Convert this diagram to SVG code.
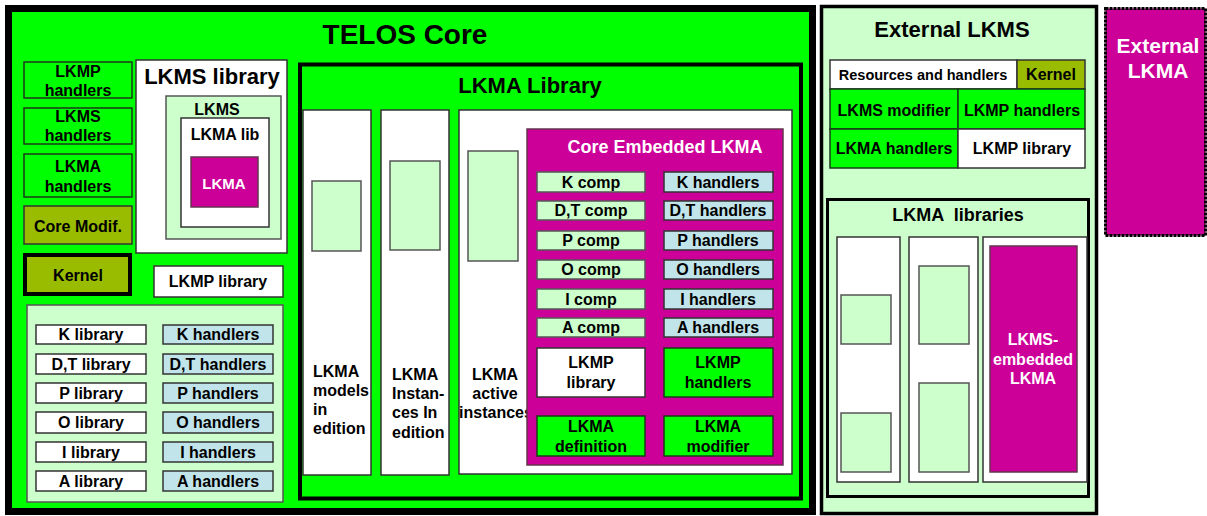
<svg xmlns="http://www.w3.org/2000/svg" width="1207" height="516" viewBox="0 0 1207 516">
<style>
text{font-family:"Liberation Sans",Arial,sans-serif;font-weight:bold;text-anchor:middle;fill:#000}
.t16{font-size:16px}
.wt{fill:#fff}
.g{fill:#00ff00;stroke:#1a3a1a;stroke-width:1.5}
.lg{fill:#ccffcc;stroke:#555;stroke-width:1.5}
.w{fill:#fff;stroke:#333;stroke-width:1.5}
.lb{fill:#c0e4ea;stroke:#333;stroke-width:1.5}
.m{fill:#cc0099;stroke:#66334d;stroke-width:1.5}
.o{fill:#99bb00;stroke:#333;stroke-width:1.5}
.pre{white-space:pre}
.ls{text-anchor:start}
</style>
<rect x="0" y="0" width="1207" height="516" fill="#fff"/>

<g id="telos-core">
<rect x="8.5" y="8.5" width="804" height="503" fill="#00ff00" stroke="#000" stroke-width="7"/>
<text x="405" y="44" font-size="28">TELOS Core</text>
</g>

<g id="lkmp-handlers"><rect class="g" x="24" y="62" width="108" height="36"/><text class="t16" x="78" y="77">LKMP</text><text class="t16" x="78" y="96">handlers</text></g>
<g id="lkms-handlers"><rect class="g" x="24" y="108" width="108" height="36"/><text class="t16" x="78" y="122">LKMS</text><text class="t16" x="78" y="141">handlers</text></g>
<g id="lkma-handlers"><rect class="g" x="24" y="154" width="108" height="43"/><text class="t16" x="78" y="172">LKMA</text><text class="t16" x="78" y="192">handlers</text></g>
<g id="core-modif"><rect class="o" x="24" y="206" width="108" height="38"/><text class="t16" x="78" y="232">Core Modif.</text></g>
<g id="kernel"><rect x="25" y="255" width="105" height="39" fill="#99bb00" stroke="#000" stroke-width="4"/><text class="t16" x="78" y="281">Kernel</text></g>
<g id="lkmp-library"><rect class="w" x="154" y="266" width="129" height="31"/><text class="t16" x="218" y="287">LKMP library</text></g>

<g id="lkms-library">
<rect class="w" x="136" y="60" width="151" height="193"/>
<text x="212" y="84" font-size="22">LKMS library</text>
<rect class="lg" x="166" y="96" width="115" height="143"/>
<text class="t16" x="217" y="115">LKMS</text>
<rect class="w" x="181" y="118" width="88" height="109"/>
<text class="t16" x="225" y="140">LKMA lib</text>
<rect class="m" x="191" y="157" width="67" height="50"/>
<text class="wt" x="224" y="189" font-size="15">LKMA</text>
</g>

<g id="component-libraries">
<rect class="lg" x="27" y="305" width="256" height="197"/>
<rect class="w" x="36" y="325" width="110" height="19"/><text class="t16" x="91" y="340">K library</text>
<rect class="w" x="36" y="354" width="110" height="20"/><text class="t16" x="91" y="370">D,T library</text>
<rect class="w" x="36" y="383" width="110" height="20"/><text class="t16" x="91" y="399">P library</text>
<rect class="w" x="36" y="412" width="110" height="21"/><text class="t16" x="91" y="428">O library</text>
<rect class="w" x="36" y="442" width="110" height="20"/><text class="t16" x="91" y="458">I library</text>
<rect class="w" x="36" y="471" width="110" height="20"/><text class="t16" x="91" y="487">A library</text>
<rect class="lb" x="163" y="325" width="110" height="19"/><text class="t16" x="218" y="340">K handlers</text>
<rect class="lb" x="163" y="354" width="110" height="20"/><text class="t16" x="218" y="370">D,T handlers</text>
<rect class="lb" x="163" y="383" width="110" height="20"/><text class="t16" x="218" y="399">P handlers</text>
<rect class="lb" x="163" y="412" width="110" height="21"/><text class="t16" x="218" y="428">O handlers</text>
<rect class="lb" x="163" y="442" width="110" height="20"/><text class="t16" x="218" y="458">I handlers</text>
<rect class="lb" x="163" y="471" width="110" height="20"/><text class="t16" x="218" y="487">A handlers</text>
</g>

<g id="lkma-library">
<rect x="300" y="64.5" width="501" height="434" fill="#00ff00" stroke="#000" stroke-width="4"/>
<text x="530" y="93" font-size="22">LKMA Library</text>
</g>

<g id="lkma-models">
<rect class="w" x="303" y="110" width="68" height="365"/>
<rect class="lg" x="312" y="181" width="49" height="70"/>
<text class="t16 ls" x="313" y="377">LKMA</text>
<text class="t16 ls" x="313" y="396">models</text>
<text class="t16 ls" x="313" y="415">in</text>
<text class="t16 ls" x="313" y="434">edition</text>
</g>
<g id="lkma-instances-edition">
<rect class="w" x="381" y="110" width="68" height="365"/>
<rect class="lg" x="390" y="161" width="50" height="89"/>
<text class="t16 ls" x="392" y="380">LKMA</text>
<text class="t16 ls" x="392" y="399">Instan-</text>
<text class="t16 ls" x="392" y="418">ces In</text>
<text class="t16 ls" x="392" y="438">edition</text>
</g>
<g id="lkma-active-instances">
<rect class="w" x="459" y="110" width="333" height="364"/>
<rect class="lg" x="468" y="151" width="50" height="110"/>
<text class="t16" x="495" y="380">LKMA</text>
<text class="t16" x="495" y="399">active</text>
<text class="t16" x="496" y="418">instances</text>
</g>

<g id="core-embedded-lkma">
<rect class="m" x="527" y="129" width="256" height="336"/>
<text class="wt" x="665" y="153" font-size="18">Core Embedded LKMA</text>
<rect class="lg" x="537" y="172" width="108" height="20"/><text class="t16" x="591" y="188">K comp</text>
<rect class="lg" x="537" y="201" width="108" height="19"/><text class="t16" x="591" y="216">D,T comp</text>
<rect class="lg" x="537" y="231" width="108" height="19"/><text class="t16" x="591" y="246">P comp</text>
<rect class="lg" x="537" y="260" width="108" height="19"/><text class="t16" x="591" y="275">O comp</text>
<rect class="lg" x="537" y="289" width="108" height="20"/><text class="t16" x="591" y="305">I comp</text>
<rect class="lg" x="537" y="318" width="108" height="19"/><text class="t16" x="591" y="333">A comp</text>
<rect class="lb" x="664" y="172" width="109" height="20"/><text class="t16" x="718" y="188">K handlers</text>
<rect class="lb" x="664" y="201" width="109" height="19"/><text class="t16" x="718" y="216">D,T handlers</text>
<rect class="lb" x="664" y="231" width="109" height="19"/><text class="t16" x="718" y="246">P handlers</text>
<rect class="lb" x="664" y="260" width="109" height="19"/><text class="t16" x="718" y="275">O handlers</text>
<rect class="lb" x="664" y="289" width="109" height="20"/><text class="t16" x="718" y="305">I handlers</text>
<rect class="lb" x="664" y="318" width="109" height="19"/><text class="t16" x="718" y="333">A handlers</text>
<rect class="w" x="537" y="348" width="108" height="49"/><text class="t16" x="591" y="368">LKMP</text><text class="t16" x="591" y="388">library</text>
<rect class="g" x="664" y="348" width="109" height="49"/><text class="t16" x="718" y="368">LKMP</text><text class="t16" x="718" y="388">handlers</text>
<rect class="g" x="537" y="416" width="108" height="40"/><text class="t16" x="591" y="432">LKMA</text><text class="t16" x="591" y="452">definition</text>
<rect class="g" x="664" y="416" width="109" height="40"/><text class="t16" x="718" y="432">LKMA</text><text class="t16" x="718" y="452">modifier</text>
</g>

<g id="external-lkms">
<rect x="821.5" y="6.5" width="275" height="507" fill="#ccffcc" stroke="#000" stroke-width="3.5"/>
<text x="952" y="37" font-size="22">External LKMS</text>
<rect class="w" x="830" y="60" width="187" height="29"/><text x="923" y="80" font-size="14.5">Resources and handlers</text>
<rect class="o" x="1017" y="60" width="68" height="29"/><text class="t16" x="1051" y="80">Kernel</text>
<rect class="g" x="830" y="89" width="128" height="40"/><text class="t16" x="894" y="116">LKMS modifier</text>
<rect class="g" x="958" y="89" width="127" height="40"/><text class="t16" x="1022" y="116">LKMP handlers</text>
<rect class="g" x="830" y="129" width="128" height="39"/><text class="t16" x="894" y="154">LKMA handlers</text>
<rect class="w" x="958" y="129" width="127" height="39"/><text class="t16" x="1022" y="154">LKMP library</text>
</g>

<g id="lkma-libraries">
<rect x="827.5" y="199.5" width="261" height="297" fill="#ccffcc" stroke="#000" stroke-width="3"/>
<text class="pre" x="958" y="221" font-size="18">LKMA  libraries</text>
<rect class="w" x="837" y="237" width="63" height="245"/>
<rect class="lg" x="841" y="295" width="50" height="49"/>
<rect class="lg" x="841" y="413" width="50" height="59"/>
<rect class="w" x="909" y="237" width="69" height="245"/>
<rect class="lg" x="919" y="266" width="50" height="78"/>
<rect class="lg" x="919" y="383" width="50" height="89"/>
<rect class="w" x="983" y="237" width="104" height="245"/>
<rect class="m" x="990" y="246" width="87" height="226"/>
<text class="wt t16" x="1033" y="345">LKMS-</text>
<text class="wt t16" x="1033" y="365">embedded</text>
<text class="wt t16" x="1033" y="384">LKMA</text>
</g>

<g id="external-lkma">
<rect x="1105.5" y="8.5" width="100" height="227" fill="#cc0099" stroke="#000" stroke-width="3" stroke-dasharray="3 1"/>
<text class="wt" x="1158" y="53" font-size="21">External</text>
<text class="wt" x="1158" y="78" font-size="21">LKMA</text>
</g>

<g id="connectors"></g>
</svg>
